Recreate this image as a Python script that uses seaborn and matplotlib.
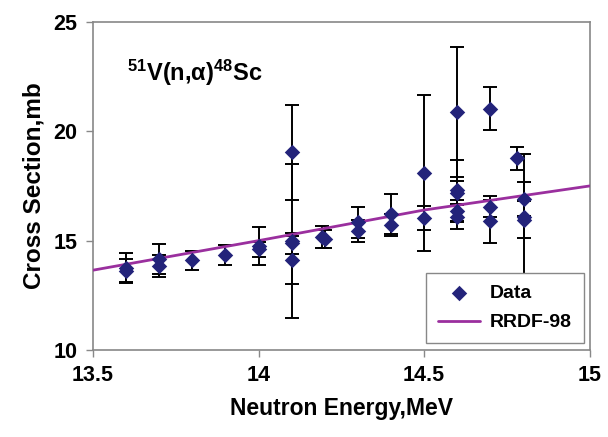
import matplotlib
matplotlib.use("Agg")
import matplotlib.pyplot as plt
import seaborn as sns
import pandas as pd

# ---- data ----
energy = [13.6, 13.6, 13.7, 13.7, 13.8, 13.9, 14.0, 14.0,
          14.1, 14.1, 14.1, 14.1, 14.19, 14.2, 14.3, 14.3,
          14.4, 14.4, 14.5, 14.5, 14.6, 14.6, 14.6, 14.6, 14.6,
          14.7, 14.7, 14.7, 14.78, 14.8, 14.8, 14.8]
cross = [13.75, 13.62, 14.15, 13.83, 14.1, 14.33, 14.74, 14.6,
         19.03, 15.0, 14.87, 14.13, 15.15, 15.08, 15.84, 15.43,
         16.22, 15.7, 18.09, 16.03, 20.87, 17.3, 17.2, 16.37, 16.1,
         21.02, 16.54, 15.88, 18.77, 16.9, 16.08, 15.96]
error = [0.68, 0.52, 0.68, 0.5, 0.42, 0.45, 0.87, 0.36,
         2.17, 3.52, 0.5, 1.1, 0.5, 0.4, 0.72, 0.5,
         0.91, 0.5, 3.57, 0.55, 2.96, 1.38, 0.52, 0.5, 0.55,
         0.98, 0.48, 0.98, 0.53, 0.76, 2.9, 0.84]

ref_energy = [13.5, 14.0, 14.5, 15.0]
ref_cross = [13.65, 15.0, 16.4, 17.5]

x_ticks = [13.5, 14, 14.5, 15]
x_tick_labels = ["13.5", "14", "14.5", "15"]
y_ticks = [10, 15, 20, 25]

# ---- style ----
sns.set_theme(style="white")
plt.rcParams["font.family"] = ["Liberation Sans", "DejaVu Sans"]
plt.rcParams["font.weight"] = "bold"
plt.rcParams["text.color"] = "black"
plt.rcParams["axes.labelcolor"] = "black"
plt.rcParams["mathtext.fontset"] = "custom"
plt.rcParams["mathtext.rm"] = "Liberation Sans:bold"
plt.rcParams["mathtext.it"] = "Liberation Sans:bold"
plt.rcParams["mathtext.bf"] = "Liberation Sans:bold"

fig = plt.figure(figsize=(6.08, 4.37), dpi=100)
ax = fig.add_axes([0.153, 0.199, 0.817, 0.751])

df = pd.DataFrame({"energy": energy, "cross": cross, "error": error})
ref = pd.DataFrame({"energy": ref_energy, "cross": ref_cross})

ax.errorbar(df["energy"], df["cross"], yerr=df["error"], fmt="none",
            ecolor="black", elinewidth=1.4, capsize=5, capthick=1.4, zorder=2)

sns.lineplot(data=ref, x="energy", y="cross", ax=ax, color="#9a2f9e",
             linewidth=2.0, label="RRDF-98", zorder=3)
sns.scatterplot(data=df, x="energy", y="cross", ax=ax, marker="D",
                s=62, color="#23237a", edgecolor="#23237a", linewidth=0,
                label="Data", zorder=4)

ax.set_xlim(13.5, 15)
ax.set_ylim(10, 25)
ax.set_xticks(x_ticks)
ax.set_xticklabels(x_tick_labels)
ax.set_yticks(y_ticks)
ax.set_xlabel("Neutron Energy,MeV", fontsize=16.5, fontweight="bold",
              labelpad=8, color="black")
ax.set_ylabel("Cross Section,mb", fontsize=17.5, fontweight="bold",
              labelpad=6, color="black")
ax.tick_params(axis="both", which="major", labelsize=15.5, direction="out",
               length=5, width=1, color="#888888", labelcolor="black",
               pad=6, bottom=True, left=True)
for lbl in ax.get_xticklabels() + ax.get_yticklabels():
    lbl.set_fontweight("bold")
for sp in ax.spines.values():
    sp.set_color("#888888")
    sp.set_linewidth(1.2)

ax.text(0.068, 0.89, r"$^{51}$V(n,$\alpha$)$^{48}$Sc", transform=ax.transAxes,
        fontsize=17, fontweight="bold", va="top", ha="left", color="black")

handles, labels = ax.get_legend_handles_labels()
order = [labels.index("Data"), labels.index("RRDF-98")]
leg = ax.legend([handles[i] for i in order], [labels[i] for i in order],
                loc="lower right", bbox_to_anchor=(0.988, 0.021),
                borderaxespad=0, fontsize=14, frameon=True, fancybox=False,
                framealpha=1, edgecolor="#888888", handlelength=2.2,
                handletextpad=0.5, borderpad=0.6, labelspacing=0.6)
for t in leg.get_texts():
    t.set_fontweight("bold")
    t.set_color("black")
leg.get_frame().set_linewidth(1.0)

fig.savefig("out.png", dpi=100)
